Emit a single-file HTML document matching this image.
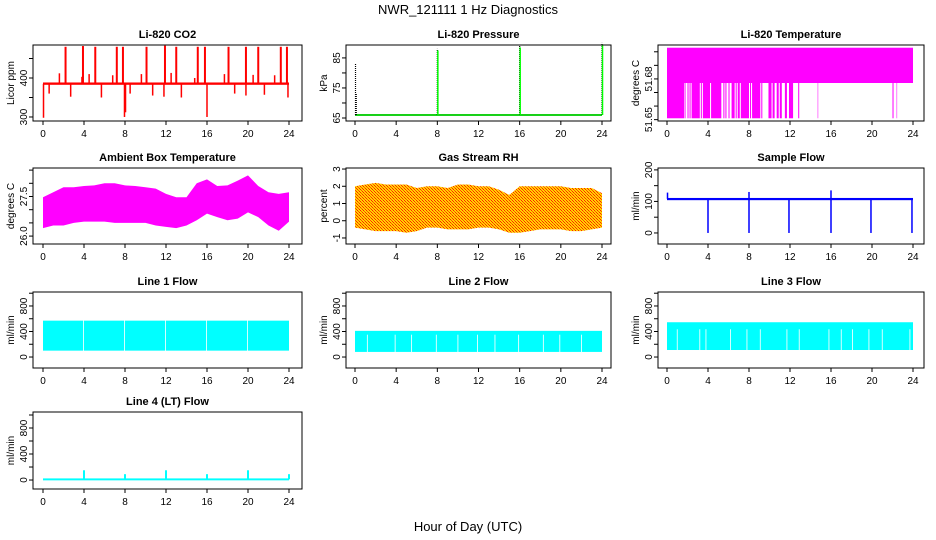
<!DOCTYPE html>
<html><head><meta charset="utf-8"><title>NWR_121111 1 Hz Diagnostics</title>
<style>
html,body{margin:0;padding:0;background:#fff;}
svg{display:block;font-family:"Liberation Sans",Arial,sans-serif;}
.tk{font-size:10px;fill:#000;}
.ttl{font-size:11px;font-weight:bold;fill:#000;}
</style></head>
<body>
<svg id="chart" width="936" height="540" viewBox="0 0 936 540" xmlns="http://www.w3.org/2000/svg">
<defs>
<pattern id="rhpat" width="3" height="3" patternUnits="userSpaceOnUse">
<rect width="3" height="3" fill="#ffd400"/><rect width="1" height="1" fill="#ff2000"/><rect x="1" y="1" width="1" height="1" fill="#ff5000"/><rect x="2" y="2" width="1" height="1" fill="#ff2000"/>
</pattern>
</defs>
<text x="468" y="14" text-anchor="middle" font-size="13">NWR_121111  1 Hz Diagnostics</text>
<text x="468" y="531" text-anchor="middle" font-size="13">Hour of Day (UTC)</text>
</svg>
<script>
// ---- data ----
const hours = [0,1,2,3,4,5,6,7,8,9,10,11,12,13,14,15,16,17,18,19,20,21,22,23,24];
const xTicks = [0,4,8,12,16,20,24];
// CO2
const co2Base = 385;
const co2SpikeHours = [2.2,3.9,5.1,7.2,7.8,10.1,11.9,13.0,15.1,15.8,18.1,19.8,21.0,23.2,23.8];
const co2SpikeVals  = [480,482,480,480,480,480,483,480,480,480,480,480,480,480,480];
const co2DipHours = [0.05,7.95,8.05,16.0,0.6,2.7,5.7,8.5,10.7,11.8,13.5,18.7,19.8,21.6,23.9,1.6,3.8,4.5,6.8,9.6,12.5,14.8,17.7,20.5,22.6];
const co2DipVals  = [298,300,312,300,360,352,350,360,355,352,350,360,355,357,350,412,403,410,407,410,413,400,410,408,407];
// Pressure
const presBase = 66;
const presSpikeHours = [0.05,0.12,8.0,16.0,24.0];
const presSpikeVals = [83,73,88,89,90];
// Li-820 temperature
const tempTop = 51.703, tempMid = 51.677, tempLow = 51.651;
const tempDropStart = [0,1.8,2.0,2.2,2.4,3.3,3.5,4.3,5.5,5.7,6.0,6.3,6.7,6.9,7.2,8.1,8.3,9.2,9.9,10.3,10.7,11.0,11.5,11.9,12.8,14.7,22.0,22.4];
const tempDropEnd   = [1.7,1.85,2.1,2.3,3.2,3.4,4.2,5.3,5.6,5.8,6.1,6.6,6.8,7.1,8.0,8.2,9.1,9.3,10.2,10.5,10.9,11.2,11.7,12.3,12.9,14.75,22.1,22.45];
// Ambient box temperature
const ambHi = [27.47,27.66,27.85,27.85,27.9,27.92,28.0,28.0,27.92,27.9,27.85,27.8,27.6,27.47,27.47,28.0,28.15,27.9,27.92,28.1,28.3,27.9,27.66,27.6,27.66];
const ambLo = [26.3,26.4,26.4,26.5,26.55,26.55,26.55,26.5,26.5,26.5,26.5,26.4,26.35,26.3,26.4,26.6,26.85,26.72,26.6,26.66,26.9,26.72,26.4,26.2,26.55];
// Gas stream RH
const rhHi = [2.0,2.1,2.2,2.1,2.1,2.1,1.9,2.0,2.0,1.9,2.1,2.1,2.0,2.0,1.8,1.5,2.0,2.0,2.0,2.0,2.0,1.9,1.9,1.9,1.6];
const rhLo = [-0.4,-0.5,-0.6,-0.6,-0.6,-0.7,-0.6,-0.4,-0.4,-0.5,-0.5,-0.5,-0.4,-0.4,-0.5,-0.7,-0.7,-0.6,-0.5,-0.5,-0.5,-0.6,-0.6,-0.5,-0.4];
// Sample flow
const sampBase = 108;
const sampDipHours = [4.0,8.0,11.9,16.0,19.9,23.9];
const sampDipVals = [0,0,0,0,0,0];
const sampSpikeHours = [0.05,8.0,16.0];
const sampSpikeVals = [128,130,135];
// Line flows
const l1Lo = 100, l1Hi = 570;
const l1Gaps = [3.95,7.95,11.95,15.95,19.95];
const l2Lo = 80, l2Hi = 410;
const l2Gaps = [1.2,3.9,5.5,7.9,10.0,11.9,13.6,15.9,18.3,19.9,22.0];
const l3Lo = 110, l3Hi = 545;
const l3Gaps = [1.0,3.2,3.8,6.2,7.8,9.1,11.7,12.9,15.8,17.0,18.1,19.7,21.0,23.7];
const l4Base = 10;
const l4SpikeHours = [4.0,8.0,12.0,16.0,20.0,24.0];
const l4SpikeVals = [150,90,150,90,150,90];

// ---- layout ----
const svg = document.getElementById('chart');
const NS = 'http://www.w3.org/2000/svg';
const COLS = [{bl:33,br:302,t0:43,t24:289},{bl:346,br:611,t0:355,t24:602},{bl:658,br:924,t0:667,t24:913}];
const ROWS = [{bt:45,bb:121},{bt:168,bb:244},{bt:292,bb:368},{bt:412,bb:489}];
function mk(tag, attrs, parent){const e=document.createElementNS(NS,tag);for(const k in attrs)e.setAttribute(k,attrs[k]);(parent||svg).appendChild(e);return e;}

function panel(name, c, r, title, ylab, ymin, ymax, yticks, ylabels){
  const C=COLS[c], R=ROWS[r];
  const g=mk('g',{});
  
  
  const xs=h=>C.t0+h*(C.t24-C.t0)/24;
  const ys=v=>R.bb-(v-ymin)*(R.bb-R.bt)/(ymax-ymin);
  const plot=mk('g',{},g);
  
  
  const box=mk('rect',{x:C.bl,y:R.bt,width:C.br-C.bl,height:R.bb-R.bt,fill:'none',stroke:'#000','stroke-width':1},g);
  
  
  const t=mk('text',{x:(C.bl+C.br)/2,y:R.bt-7,'text-anchor':'middle','class':'ttl'},g);
  t.textContent=title;
  
  
  // x axis
  const xa=mk('g',{},g);
  
  
  xTicks.forEach(h=>{
    mk('line',{x1:xs(h),x2:xs(h),y1:R.bb,y2:R.bb+4,stroke:'#000'},xa);
    const l=mk('text',{x:xs(h),y:R.bb+16,'text-anchor':'middle','class':'tk'},xa);
    l.textContent=h;
    
    
  });
  // y axis
  const ya=mk('g',{},g);
  
  
  const ax=C.bl;
  yticks.forEach(v=>mk('line',{x1:ax-4,x2:ax,y1:ys(v),y2:ys(v),stroke:'#000'},ya));
  ylabels.forEach(v=>{
    const l=mk('text',{x:0,y:0,'text-anchor':'middle','class':'tk',transform:`translate(${ax-6},${ys(v)}) rotate(-90)`},ya);
    l.textContent=v;
    
    
  });
  const yl=mk('text',{x:0,y:0,'text-anchor':'middle','class':'tk',transform:`translate(${C.bl-19},${(R.bt+R.bb)/2}) rotate(-90)`},g);
  yl.textContent=ylab;
  
  
  return {xs,ys,plot};
}
function vline(p,h,v1,v2,col,w,name,dash){
  const e=mk('line',{x1:p.xs(h),x2:p.xs(h),y1:p.ys(v1),y2:p.ys(v2),stroke:col,'stroke-width':w||1.5},p.plot);
  if(dash)e.setAttribute('stroke-dasharray',dash);
  
  
  return e;
}
function hband(p,h1,h2,v1,v2,fill,name){
  const e=mk('rect',{x:p.xs(h1),y:p.ys(v2),width:Math.max(p.xs(h2)-p.xs(h1),0.5),height:p.ys(v1)-p.ys(v2),fill:fill},p.plot);
  
  
  return e;
}
function envelope(p,hi,lo,fill,name){
  let d='M'+hours.map((h,i)=>p.xs(h)+','+p.ys(hi[i])).join('L');
  d+='L'+hours.slice().reverse().map((h,j)=>p.xs(h)+','+p.ys(lo[hours.length-1-j])).join('L')+'Z';
  const e=mk('path',{d:d,fill:fill,stroke:'none'},p.plot);
  
  
}
function gappedBand(p,lo,hi,gaps,gapTop,col,name){
  hband(p,0,24,lo,hi,col,name);
  gaps.forEach(gh=>hband(p,gh-0.04,gh+0.04,lo-5,gapTop,'#fff',name+'-gap'));
}

// CO2
let p=panel('co2',0,0,'Li-820 CO2','Licor ppm',289.7,484.6,[300,350,400,450],[300,400]);
co2SpikeHours.forEach((h,i)=>vline(p,h,co2Base,co2SpikeVals[i],'#ff0000',2,'co2-spike'));
co2DipHours.forEach((h,i)=>vline(p,h,co2Base,co2DipVals[i],'#ff0000',1.5,'co2-excursion'));
hband(p,0,24,co2Base-2.5,co2Base+3.5,'#ff0000','co2-baseline');

// Pressure
p=panel('pressure',1,0,'Li-820 Pressure','kPa',64,89.3,[65,70,75,80,85],[65,75,85]);
hband(p,0,24,presBase-0.3,presBase+0.3,'#00cc00','pressure-baseline');
presSpikeHours.forEach((h,i)=>vline(p,h,presBase,presSpikeVals[i],'#000',1.2,'pressure-spike','1,1'));
presSpikeHours.forEach((h,i)=>{ if(presSpikeVals[i]>85) vline(p,h+0.05,presBase,presSpikeVals[i]-0.5,'#00ff00',1.5,'pressure-spike-green');});

// Li-820 temperature
p=panel('li820-temp',2,0,'Li-820 Temperature','degrees C',51.649,51.705,[51.65,51.66,51.67,51.68,51.69,51.70],['51.65','51.68']);
hband(p,0,24,tempMid,tempTop,'#ff00ff','temp-band');
tempDropStart.forEach((s,i)=>hband(p,s,tempDropEnd[i],tempLow,tempMid,'#ff00ff','temp-drop'));

// Ambient
p=panel('ambient-temp',0,1,'Ambient Box Temperature','degrees C',25.7,28.58,[26.0,26.5,27.0,27.5,28.0,28.5],['26.0','27.5']);
envelope(p,ambHi,ambLo,'#ff00ff','ambient-band');

// RH
p=panel('rh',1,1,'Gas Stream RH','percent',-1.35,3.06,[-1,0,1,2,3],[-1,0,1,2,3]);
envelope(p,rhHi,rhLo,'url(#rhpat)','rh-band');

// Sample flow
p=panel('sample-flow',2,1,'Sample Flow','ml/min',-35,206,[0,50,100,150,200],[0,100,200]);
hband(p,0,24,sampBase-4,sampBase+3,'#0000ff','sample-flow-baseline');
sampDipHours.forEach((h,i)=>vline(p,h,sampBase,sampDipVals[i],'#0000ff',1.5,'sample-flow-dip'));
sampSpikeHours.forEach((h,i)=>vline(p,h,sampBase,sampSpikeVals[i],'#0000ff',1.5,'sample-flow-spike'));

// Line flows
const flowTicks=[0,200,400,600,800,1000], flowLabels=[0,400,800];
p=panel('line1-flow',0,2,'Line 1 Flow','ml/min',-172,1019,flowTicks,flowLabels);
gappedBand(p,l1Lo,l1Hi,l1Gaps,l1Hi+20,'#00ffff','line1-band');
p=panel('line2-flow',1,2,'Line 2 Flow','ml/min',-172,1019,flowTicks,flowLabels);
gappedBand(p,l2Lo,l2Hi,l2Gaps,l2Hi-60,'#00ffff','line2-band');
p=panel('line3-flow',2,2,'Line 3 Flow','ml/min',-172,1019,flowTicks,flowLabels);
gappedBand(p,l3Lo,l3Hi,l3Gaps,l3Hi-110,'#00ffff','line3-band');
p=panel('line4-flow',0,3,'Line 4 (LT) Flow','ml/min',-138,1046,flowTicks,flowLabels);
hband(p,0,24,l4Base-15,l4Base+15,'#00ffff','line4-baseline');
l4SpikeHours.forEach((h,i)=>vline(p,h,l4Base,l4SpikeVals[i],'#00ffff',2,'line4-spike'));
</script>
</body></html>
